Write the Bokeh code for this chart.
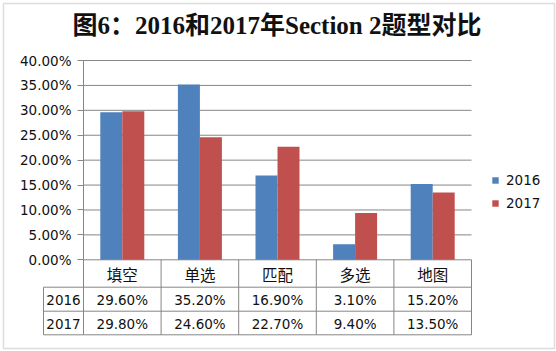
from bokeh.plotting import figure
from bokeh.models import (Range1d, FixedTicker, NumeralTickFormatter, ColumnDataSource,
                          Legend, LegendItem, Label, LabelSet, BoxAnnotation)
from bokeh.core.properties import value
from bokeh.embed import file_html
from bokeh.resources import INLINE

# ---------------- data ----------------
title_text = "图6：2016和2017年Section 2题型对比"
categories = ["填空", "单选", "匹配", "多选", "地图"]
series_names = ["2016", "2017"]
values_2016 = [0.296, 0.352, 0.169, 0.031, 0.152]
values_2017 = [0.298, 0.246, 0.227, 0.094, 0.135]
y_ticks = [0.0, 0.05, 0.10, 0.15, 0.20, 0.25, 0.30, 0.35, 0.40]

# ---------------- geometry (pixels) ----------------
W, H = 556, 351
AXIS_PX = 83
CAT_PX = 77.6
Y0_PX = 259.3
Y40_PX = 60.0
PX_PER_UNIT = (Y0_PX - Y40_PX) / 0.4


def xd(px):
    return (px - AXIS_PX) / CAT_PX


def yd(py):
    return (Y0_PX - py) / PX_PER_UNIT


BLUE = "#4F81BD"
RED = "#C0504D"
GRID = "#868686"
TXT = "#111111"
LATIN = "DejaVu Sans"
CJK = "Noto Sans CJK SC"
FS = "13.5px"

p = figure(width=W, height=H, x_range=Range1d(xd(0), xd(W)), y_range=Range1d(yd(H), yd(0)),
           output_backend="svg", toolbar_location=None, x_axis_type=None,
           min_border_left=0, min_border_right=0, min_border_top=0, min_border_bottom=0)
p.outline_line_color = None
p.ygrid.grid_line_color = None
p.background_fill_color = "white"
p.border_fill_color = "white"

# y axis, drawn at the left edge of the category area
ax = p.yaxis[0]
ax.fixed_location = 0
ax.ticker = FixedTicker(ticks=y_ticks)
ax.formatter = NumeralTickFormatter(format="0.00%")
ax.bounds = (0, 0.4)
ax.major_tick_in = 0
ax.major_tick_out = 6
ax.minor_tick_in = 0
ax.minor_tick_out = 0
ax.axis_line_color = GRID
ax.major_tick_line_color = GRID
ax.major_label_text_font = LATIN
ax.major_label_text_font_size = FS
ax.major_label_text_color = TXT
ax.major_label_standoff = 6

n = len(categories)
# gridlines
p.segment(x0=[0] * len(y_ticks), x1=[n] * len(y_ticks), y0=y_ticks, y1=y_ticks,
          line_color=GRID, line_width=1)

# bars
bw = 22 / CAT_PX
r1 = p.vbar(x=[i + 0.5 - bw / 2 for i in range(n)], top=values_2016, width=bw,
            fill_color=BLUE, line_color=None)
r2 = p.vbar(x=[i + 0.5 + bw / 2 for i in range(n)], top=values_2017, width=bw,
            fill_color=RED, line_color=None)

# data table
x_left = xd(43)
row_lines_px = [286.7, 310.7, 334.3]
p.segment(x0=[x_left] * 3, x1=[n] * 3, y0=[yd(v) for v in row_lines_px],
          y1=[yd(v) for v in row_lines_px], line_color=GRID, line_width=1)
p.segment(x0=list(range(n + 1)), x1=list(range(n + 1)), y0=[0] * (n + 1),
          y1=[yd(334.3)] * (n + 1), line_color=GRID, line_width=1)
p.segment(x0=[x_left], x1=[x_left], y0=[yd(286.7)], y1=[yd(334.3)],
          line_color=GRID, line_width=1)

cx = [i + 0.5 for i in range(n)]
p.text(x=cx, y=[yd(273.5)] * n, text=categories, text_font=value(CJK),
       text_font_size="15.5px", text_align="center", text_baseline="middle", text_color=TXT)
row_y = [yd(299), yd(323)]
p.text(x=cx, y=[row_y[0]] * n, text=[f"{v * 100:.2f}%" for v in values_2016],
       text_font=value(LATIN), text_font_size=FS, text_align="center",
       text_baseline="middle", text_color=TXT)
p.text(x=cx, y=[row_y[1]] * n, text=[f"{v * 100:.2f}%" for v in values_2017],
       text_font=value(LATIN), text_font_size=FS, text_align="center",
       text_baseline="middle", text_color=TXT)
p.text(x=[(x_left + 0) / 2] * 2, y=row_y, text=series_names, text_font=value(LATIN),
       text_font_size=FS, text_align="center", text_baseline="middle", text_color=TXT)

# legend
legend = Legend(items=[LegendItem(label=series_names[0], renderers=[r1]),
                       LegendItem(label=series_names[1], renderers=[r2])],
                location=(491, 140), glyph_width=8, glyph_height=8, label_standoff=7,
                label_text_font=LATIN, label_text_font_size=FS, label_text_color=TXT,
                spacing=7, label_height=16, padding=0, margin=0,
                border_line_color=None, background_fill_alpha=0)
p.add_layout(legend)

# title
p.add_layout(Label(x=xd(276.5), y=yd(25), text=title_text, text_align="center",
                   text_baseline="middle",
                   text_font="'Liberation Serif', 'Noto Sans CJK SC'",
                   text_font_style="bold", text_font_size="25px", text_color=TXT))

# outer border
p.add_layout(BoxAnnotation(left=3, right=554, top=3, bottom=348,
                           left_units="canvas", right_units="canvas",
                           top_units="canvas", bottom_units="canvas",
                           fill_alpha=0, line_color="#8f8f8f", line_width=1.5))

open("out.html", "w").write(file_html(p, INLINE))
